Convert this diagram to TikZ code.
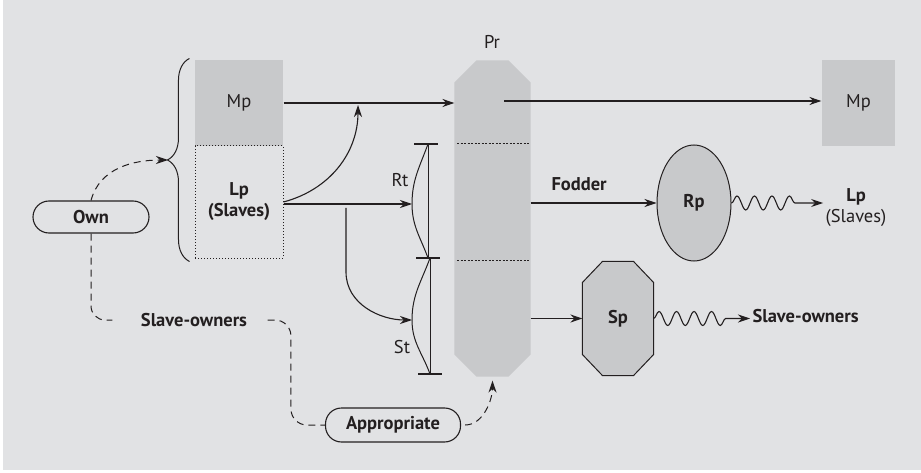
\documentclass[tikz,border=0pt]{standalone}
\usepackage{fontspec}
\setmainfont{PT Sans}
\usetikzlibrary{arrows.meta, positioning, shapes.geometric, decorations.pathreplacing, decorations.pathmorphing}
\definecolor{bggray}{RGB}{225,226,228}
\definecolor{boxgray}{RGB}{200,201,203}
\definecolor{ink}{RGB}{35,31,32}
\newcommand{\lbl}{\fontsize{18.5}{21}\selectfont}

\begin{document}
\begin{tikzpicture}[x=1pt, y=1pt, color=ink, line width=1.1pt,
      font=\lbl, inner sep=2pt,
      bold/.style={font=\lbl\bfseries},
      greybox/.style={fill=boxgray, minimum width=#1, minimum height=86, inner sep=0},
      pill/.style={draw, rounded corners=16, minimum height=#1, bold},
      arr/.style={-{Stealth[length=12pt, width=8pt]}},
      dashline/.style={dash pattern=on 7pt off 5pt, line width=1pt},
      wave/.style={decorate, decoration={snake, amplitude=7pt, segment length=17.5pt, post length=22pt}},
      tick/.style={line width=1.3pt}
  ]
    \useasboundingbox (0,0) rectangle (921,472);
    \fill[white] (0,0) rectangle (921,472);
    \fill[bggray] (3,2) rectangle (921,472);

    % left column
    \node[greybox=88] (mpl) at (239,369) {Mp};
    \node[draw, dotted, line width=1pt, minimum width=88, minimum height=112,
          align=center, bold] (lp) at (239,270) {Lp\\(Slaves)};
    \draw[line width=1pt, decorate, decoration={brace, amplitude=22pt}]
      ([xshift=-5pt, yshift=-3pt]lp.south west) -- ([xshift=-5pt, yshift=1pt]mpl.north west);
    \coordinate (btip) at (168,312);

    \node[pill=32, minimum width=116] (own) at (91,255) {Own};
    \node[bold] (so) at (194,152) {Slave-owners};
    \node[pill=34, minimum width=135] (app) at (393,47) {Appropriate};

    % production column
    \node[minimum width=75, minimum height=315, inner sep=0] (pr) at (492.5,253.5) {};
    \fill[boxgray] ([xshift=22pt]pr.north west) -- ([xshift=-22pt]pr.north east)
      -- ([yshift=-22pt]pr.north east) -- ([yshift=22pt]pr.south east)
      -- ([xshift=-22pt]pr.south east) -- ([xshift=22pt]pr.south west)
      -- ([yshift=22pt]pr.south west) -- ([yshift=-22pt]pr.north west) -- cycle;
    \node (prlabel) at (492,430) {Pr};
    \draw[dash pattern=on 2pt off 1.5pt, line width=1pt] (457,328) -- (529,328);
    \draw[dash pattern=on 2pt off 1.5pt, line width=1pt] (457,212) -- (529,212);

    % Rt and St
    \draw[line width=1pt] (428,328) -- (428,214);
    \draw[line width=1pt] (430,214) -- (430,98);
    \draw[tick] (414,328) -- (438,328);
    \draw[tick] (416,214) -- (440,214);
    \draw[tick] (418,98) -- (442,98);
    \coordinate (rtb) at (412,268);
    \coordinate (stb) at (412,152);
    \draw[line width=1pt] (428,328) to[out=-110,in=90] (rtb) to[out=-90,in=110] (428,214);
    \draw[line width=1pt] (430,214) to[out=-110,in=90] (stb) to[out=-90,in=110] (430,98);
    \node (rt) at (400,292) {Rt};
    \node (st) at (402,125) {St};

    % right side
    \node[greybox=73] (mpr) at (858.5,369) {Mp};
    \node[ellipse, draw, fill=boxgray, line width=1pt, minimum width=74, minimum height=116,
          inner sep=0, bold] (rp) at (694,269) {Rp};
    \node[align=center] (lpr) at (856,264) {\textbf{Lp}\\(Slaves)};
    \node[bold, anchor=west] (fodder) at (549,288) {Fodder};
    \node[minimum width=70, minimum height=113, inner sep=0] (sp) at (618,153.5) {};
    \filldraw[fill=boxgray, line width=1pt] ([xshift=20pt]sp.north west) -- ([xshift=-20pt]sp.north east)
      -- ([yshift=-21pt]sp.north east) -- ([yshift=21pt]sp.south east)
      -- ([xshift=-20pt]sp.south east) -- ([xshift=20pt]sp.south west)
      -- ([yshift=21pt]sp.south west) -- ([yshift=-21pt]sp.north west) -- cycle;
    \node[bold] at (sp) {Sp};
    \node[bold, anchor=west] (sor) at (750,156) {Slave-owners};

    % arrows
    \draw[arr] (mpl.east) -- (mpl.east -| pr.west);
    \coordinate (jn) at (358,367);
    \draw[arr] (lp.east) to[out=15,in=-90] (jn);
    \draw[arr] (lp.east |- rtb) -- (rtb);
    \coordinate (br) at (346,264);
    \draw[arr] (br) -- (346,200) to[out=-90,in=180] (stb);
    \coordinate (prm) at (504,371);
    \draw[arr] (prm) -- (prm -| mpr.west);
    \draw[arr] (pr.east |- rp.west) -- (rp.west);
    \draw[arr] (pr.east |- sp.west) -- (sp.west);
    \draw[arr, wave] (rp.east) -- (rp.east -| lpr.west);
    \draw[arr, wave] (sp.east) -- (sp.east -| sor.west);

    % dashed
    \draw[dashline, arr] (own.north) to[out=75,in=180] (btip);
    \draw[dashline, rounded corners=14pt, shorten >=26pt] (own.south) |- (so.west);
    \draw[dashline, rounded corners=16pt, shorten <=18pt] (so.east) -| ([xshift=-34pt]app.west) -- (app.west);
    \draw[dashline, arr, shorten >=4pt, shorten <=4pt] (app.east) to[out=0,in=-90] (pr.south);
\end{tikzpicture}
\end{document}
